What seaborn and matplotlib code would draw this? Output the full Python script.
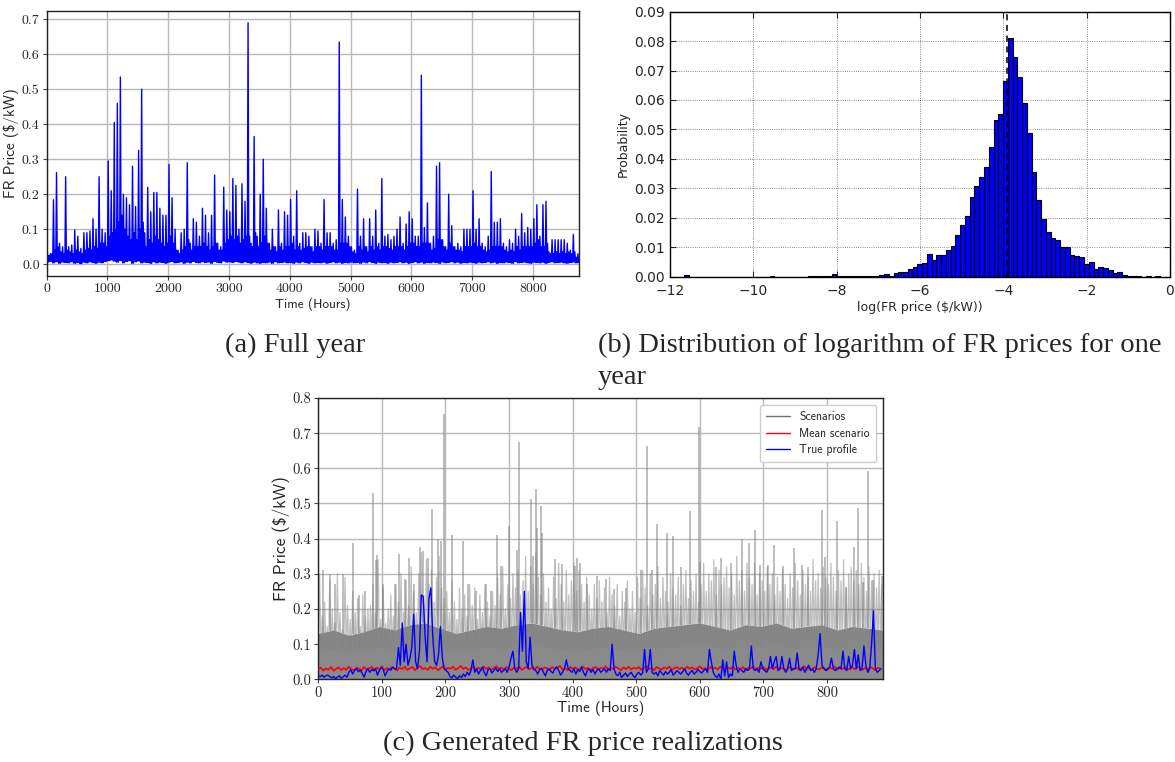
import numpy as np
import pandas as pd
import matplotlib
matplotlib.use("Agg")
import matplotlib.pyplot as plt
from matplotlib.lines import Line2D
import seaborn as sns

# ---------------- (a) full year FR price, read per 50-hour window ----------------
year_window_hours = 50
# highest spike in each window
year_peaks = [
    0.03, 0.03, 0.184, 0.262, 0.06, 0.05, 0.25, 0.05, 0.055, 0.098,
    0.08, 0.045, 0.09, 0.09, 0.095, 0.13, 0.1, 0.25, 0.1, 0.09,
    0.295, 0.21, 0.405, 0.46, 0.535, 0.2, 0.19, 0.17, 0.28, 0.165,
    0.325, 0.5, 0.09, 0.22, 0.15, 0.205, 0.205, 0.16, 0.14, 0.14,
    0.285, 0.19, 0.1, 0.04, 0.09, 0.1, 0.29, 0.06, 0.13, 0.12,
    0.08, 0.16, 0.14, 0.09, 0.14, 0.255, 0.06, 0.05, 0.22, 0.155,
    0.15, 0.245, 0.225, 0.1, 0.23, 0.18, 0.69, 0.06, 0.365, 0.08,
    0.2, 0.3, 0.16, 0.06, 0.1, 0.05, 0.155, 0.06, 0.15, 0.14,
    0.185, 0.08, 0.21, 0.06, 0.09, 0.09, 0.08, 0.05, 0.1, 0.095,
    0.06, 0.185, 0.09, 0.09, 0.06, 0.07, 0.635, 0.185, 0.135, 0.08,
    0.05, 0.04, 0.215, 0.08, 0.13, 0.05, 0.13, 0.08, 0.155, 0.06,
    0.245, 0.08, 0.085, 0.07, 0.08, 0.1, 0.135, 0.06, 0.115, 0.15,
    0.13, 0.08, 0.08, 0.54, 0.105, 0.175, 0.06, 0.08, 0.28, 0.29,
    0.07, 0.05, 0.2, 0.11, 0.05, 0.06, 0.05, 0.1, 0.1, 0.1,
    0.21, 0.1, 0.13, 0.06, 0.05, 0.08, 0.265, 0.12, 0.12, 0.13,
    0.06, 0.05, 0.07, 0.06, 0.1, 0.08, 0.145, 0.09, 0.105, 0.1,
    0.13, 0.17, 0.08, 0.17, 0.18, 0.035, 0.07, 0.07, 0.07, 0.07,
    0.07, 0.06, 0.04, 0.085, 0.02, 0.02,
]
# top of the dense band in each window
year_level = [
    0.025, 0.03, 0.04, 0.05, 0.035, 0.03, 0.04, 0.035, 0.03, 0.04,
    0.035, 0.03, 0.04, 0.045, 0.04, 0.05, 0.045, 0.06, 0.06, 0.05,
    0.08, 0.09, 0.1, 0.12, 0.14, 0.1, 0.08, 0.07, 0.09, 0.07,
    0.1, 0.12, 0.05, 0.07, 0.06, 0.08, 0.07, 0.06, 0.05, 0.06,
    0.08, 0.06, 0.04, 0.03, 0.04, 0.05, 0.07, 0.04, 0.05, 0.05,
    0.05, 0.06, 0.05, 0.04, 0.05, 0.06, 0.04, 0.04, 0.06, 0.07,
    0.08, 0.07, 0.08, 0.06, 0.07, 0.08, 0.08, 0.05, 0.09, 0.05,
    0.06, 0.08, 0.06, 0.04, 0.05, 0.035, 0.05, 0.04, 0.05, 0.05,
    0.06, 0.04, 0.05, 0.04, 0.045, 0.05, 0.05, 0.035, 0.05, 0.05,
    0.04, 0.05, 0.05, 0.05, 0.04, 0.04, 0.06, 0.06, 0.06, 0.05,
    0.035, 0.03, 0.05, 0.04, 0.05, 0.035, 0.05, 0.04, 0.05, 0.04,
    0.05, 0.05, 0.045, 0.04, 0.05, 0.05, 0.05, 0.04, 0.05, 0.06,
    0.06, 0.05, 0.05, 0.06, 0.06, 0.06, 0.04, 0.045, 0.07, 0.07,
    0.05, 0.04, 0.06, 0.05, 0.04, 0.04, 0.035, 0.05, 0.05, 0.05,
    0.06, 0.05, 0.05, 0.04, 0.035, 0.04, 0.05, 0.05, 0.05, 0.05,
    0.04, 0.035, 0.04, 0.035, 0.05, 0.04, 0.05, 0.05, 0.05, 0.05,
    0.06, 0.07, 0.05, 0.05, 0.06, 0.03, 0.03, 0.035, 0.03, 0.035,
    0.03, 0.035, 0.03, 0.035, 0.03, 0.025,
]
# lowest value in each window
year_troughs = [
    0.006, 0.008, 0.004, 0.007, 0.003, 0.006, 0.005, 0.004, 0.007, 0.003,
    0.005, 0.002, 0.006, 0.004, 0.007, 0.005, 0.003, 0.006, 0.004, 0.008,
    0.010, 0.012, 0.009, 0.006, 0.011, 0.004, 0.008, 0.010, 0.003, 0.007,
    0.009, 0.004, 0.006, 0.005, 0.003, 0.007, 0.004, 0.006, 0.005, 0.003,
    0.006, 0.008, 0.004, 0.005, 0.007, 0.003, 0.006, 0.004, 0.008, 0.005,
    0.004, 0.007, 0.005, 0.006, 0.003, 0.008, 0.005, 0.004, 0.009, 0.006,
    0.007, 0.005, 0.008, 0.006, 0.004, 0.007, 0.005, 0.003, 0.006, 0.004,
    0.003, 0.005, 0.004, 0.006, 0.003, 0.007, 0.004, 0.005, 0.006, 0.004,
    0.005, 0.003, 0.006, 0.004, 0.007, 0.005, 0.003, 0.006, 0.004, 0.005,
    0.004, 0.006, 0.003, 0.005, 0.007, 0.004, 0.006, 0.003, 0.005, 0.004,
    0.006, 0.004, 0.005, 0.003, 0.006, 0.004, 0.007, 0.005, 0.003, 0.006,
    0.004, 0.005, 0.003, 0.006, 0.004, 0.005, 0.007, 0.004, 0.006, 0.003,
    0.005, 0.007, 0.004, 0.006, 0.003, 0.005, 0.004, 0.006, 0.005, 0.003,
    0.006, 0.004, 0.005, 0.007, 0.004, 0.006, 0.003, 0.005, 0.004, 0.006,
    0.005, 0.003, 0.006, 0.004, 0.005, 0.007, 0.004, 0.006, 0.003, 0.005,
    0.004, 0.006, 0.005, 0.003, 0.007, 0.004, 0.005, 0.006, 0.004, 0.003,
    0.006, 0.005, 0.004, 0.006, 0.003, 0.005, 0.007, 0.004, 0.005, 0.006,
    0.004, 0.003, 0.005, 0.006, 0.004, 0.005,
]

# ---------------- (b) histogram of log(FR price) ----------------
hist_first_edge = -11.664
hist_bin_width = 0.1143
hist_probability = [
    0.0006, 0, 0, 0, 0, 0, 0, 0, 0, 0,
    0, 0, 0, 0.0001, 0, 0, 0, 0, 0.0002, 0,
    0, 0, 0.0001, 0, 0, 0, 0.0002, 0.0002, 0.0003, 0.0002,
    0.0002, 0.0009, 0.0003, 0.0002, 0.0005, 0.0002, 0.0002, 0.0004, 0.0004, 0.0004,
    0.0005, 0.0007, 0.0009, 0.0003, 0.0012, 0.0017, 0.0016, 0.0027, 0.0035, 0.0045,
    0.0048, 0.0078, 0.0058, 0.0076, 0.0076, 0.0090, 0.0105, 0.0142, 0.0176, 0.0206,
    0.0272, 0.0307, 0.0339, 0.0373, 0.0439, 0.0532, 0.0551, 0.0666, 0.0810, 0.0745,
    0.0679, 0.0589, 0.0487, 0.0356, 0.0262, 0.0198, 0.0151, 0.0132, 0.0124, 0.0103,
    0.0103, 0.0074, 0.0070, 0.0069, 0.0044, 0.0051, 0.0026, 0.0035, 0.0032, 0.0025,
    0.0015, 0.0016, 0.0006, 0.0005, 0.0003, 0.0002, 0.0001, 0.0002, 0.0001, 0.0002,
]
log_price_center = -3.92

# ---------------- (c) generated scenarios ----------------
core_step_hours = 24
scen_core_top = [
    0.13, 0.14, 0.125, 0.135, 0.15, 0.14, 0.155, 0.16, 0.145, 0.13,
    0.14, 0.15, 0.145, 0.155, 0.16, 0.15, 0.14, 0.135, 0.145, 0.15,
    0.14, 0.13, 0.145, 0.15, 0.155, 0.16, 0.15, 0.14, 0.155, 0.15,
    0.16, 0.145, 0.15, 0.155, 0.14, 0.15, 0.145, 0.14,
]
mid_step_hours = 4
scen_mid_peaks = [
    0.30, 0.18, 0.22, 0.15, 0.28, 0.20, 0.16, 0.30, 0.19, 0.14,
    0.29, 0.21, 0.17, 0.25, 0.19, 0.23, 0.15, 0.24, 0.18, 0.20,
    0.21, 0.27, 0.19, 0.34, 0.17, 0.26, 0.16, 0.20, 0.24, 0.18,
    0.27, 0.22, 0.30, 0.19, 0.28, 0.21, 0.32, 0.25, 0.19, 0.30,
    0.36, 0.24, 0.34, 0.27, 0.31, 0.22, 0.29, 0.35, 0.26, 0.23,
    0.25, 0.19, 0.28, 0.22, 0.17, 0.26, 0.20, 0.24, 0.18, 0.27,
    0.21, 0.26, 0.17, 0.24, 0.19, 0.27, 0.22, 0.18, 0.25, 0.21,
    0.29, 0.24, 0.32, 0.20, 0.27, 0.23, 0.30, 0.26, 0.31, 0.24,
    0.28, 0.35, 0.25, 0.32, 0.27, 0.36, 0.29, 0.24, 0.30, 0.22,
    0.26, 0.20, 0.29, 0.23, 0.33, 0.27, 0.22, 0.31, 0.24, 0.28,
    0.33, 0.25, 0.31, 0.27, 0.22, 0.29, 0.24, 0.20, 0.27, 0.23,
    0.28, 0.22, 0.26, 0.19, 0.29, 0.24, 0.21, 0.27, 0.18, 0.25,
    0.22, 0.28, 0.20, 0.25, 0.19, 0.29, 0.23, 0.31, 0.26, 0.21,
    0.30, 0.24, 0.27, 0.32, 0.23, 0.29, 0.25, 0.22, 0.30, 0.26,
    0.24, 0.29, 0.21, 0.27, 0.31, 0.23, 0.28, 0.25, 0.30, 0.22,
    0.27, 0.33, 0.25, 0.30, 0.28, 0.34, 0.24, 0.31, 0.27, 0.29,
    0.32, 0.26, 0.30, 0.24, 0.35, 0.28, 0.31, 0.25, 0.33, 0.29,
    0.27, 0.33, 0.24, 0.30, 0.28, 0.25, 0.32, 0.27, 0.30, 0.24,
    0.29, 0.25, 0.31, 0.27, 0.23, 0.30, 0.26, 0.33, 0.28, 0.24,
    0.31, 0.27, 0.29, 0.25, 0.34, 0.28, 0.30, 0.26, 0.32, 0.29,
    0.27, 0.33, 0.29, 0.25, 0.31, 0.28, 0.34, 0.26, 0.30, 0.32,
    0.28, 0.31, 0.27, 0.33, 0.29, 0.25, 0.32, 0.28, 0.30, 0.26,
    0.31, 0.27,
]
scen_spike_hours = [
    7, 19, 27, 39, 55, 64, 73, 86, 91, 93,
    101, 120, 127, 136, 143, 151, 160, 164, 172, 178,
    188, 193, 198, 211, 228, 235, 248, 263, 272, 281,
    288, 300, 312, 316, 335, 338, 342, 344, 350, 351,
    372, 383, 403, 407, 412, 422, 439, 453, 465, 484,
    507, 517, 524, 532, 548, 557, 571, 585, 599, 600,
    626, 633, 649, 666, 677, 686, 695, 707, 716, 731,
    748, 761, 770, 792, 797, 815, 830, 842, 849, 857,
    864, 873, 886,
]
scen_spike_values = [
    0.31, 0.30, 0.27, 0.30, 0.387, 0.24, 0.25, 0.53, 0.34, 0.353,
    0.27, 0.27, 0.356, 0.285, 0.345, 0.27, 0.377, 0.366, 0.344, 0.483,
    0.40, 0.394, 0.755, 0.41, 0.394, 0.27, 0.25, 0.27, 0.25, 0.41,
    0.323, 0.435, 0.369, 0.674, 0.513, 0.35, 0.541, 0.43, 0.494, 0.416,
    0.342, 0.328, 0.323, 0.344, 0.33, 0.27, 0.295, 0.285, 0.257, 0.26,
    0.31, 0.664, 0.31, 0.442, 0.415, 0.407, 0.32, 0.48, 0.718, 0.335,
    0.32, 0.345, 0.33, 0.40, 0.387, 0.425, 0.325, 0.325, 0.383, 0.323,
    0.373, 0.325, 0.32, 0.482, 0.347, 0.451, 0.262, 0.375, 0.486, 0.276,
    0.593, 0.282, 0.295,
]
mean_step_hours = 4
mean_scenario = [
    0.028, 0.033, 0.025, 0.031, 0.027, 0.035, 0.024, 0.030, 0.034, 0.026,
    0.032, 0.027, 0.036, 0.029, 0.025, 0.033, 0.030, 0.026, 0.035, 0.028,
    0.031, 0.036, 0.027, 0.033, 0.029, 0.037, 0.026, 0.032, 0.028, 0.035,
    0.030, 0.025, 0.034, 0.029, 0.036, 0.027, 0.031, 0.035, 0.026, 0.033,
    0.038, 0.029, 0.032, 0.027, 0.036, 0.030, 0.034, 0.026, 0.031, 0.037,
    0.028, 0.033, 0.030, 0.036, 0.027, 0.032, 0.038, 0.029, 0.034, 0.027,
    0.031, 0.035, 0.028, 0.033, 0.026, 0.036, 0.030, 0.034, 0.027, 0.032,
    0.037, 0.029, 0.033, 0.028, 0.035, 0.031, 0.026, 0.034, 0.030, 0.036,
    0.027, 0.032, 0.035, 0.029, 0.033, 0.026, 0.036, 0.030, 0.028, 0.034,
    0.031, 0.027, 0.035, 0.029, 0.033, 0.038, 0.028, 0.032, 0.026, 0.035,
    0.030, 0.034, 0.027, 0.031, 0.036, 0.029, 0.033, 0.026, 0.032, 0.035,
    0.028, 0.033, 0.030, 0.037, 0.027, 0.032, 0.029, 0.035, 0.031, 0.026,
    0.034, 0.029, 0.036, 0.028, 0.033, 0.030, 0.035, 0.027, 0.032, 0.038,
    0.029, 0.033, 0.026, 0.035, 0.031, 0.028, 0.034, 0.030, 0.036, 0.027,
    0.032, 0.035, 0.029, 0.033, 0.027, 0.036, 0.030, 0.034, 0.028, 0.031,
    0.037, 0.029, 0.032, 0.026, 0.035, 0.030, 0.033, 0.028, 0.036, 0.031,
    0.027, 0.034, 0.030, 0.036, 0.028, 0.032, 0.029, 0.035, 0.026, 0.033,
    0.031, 0.036, 0.028, 0.033, 0.030, 0.035, 0.027, 0.032, 0.034, 0.029,
    0.036, 0.028, 0.033, 0.030, 0.026, 0.035, 0.031, 0.029, 0.034, 0.027,
    0.032, 0.037, 0.029, 0.033, 0.027, 0.035, 0.030, 0.028, 0.034, 0.031,
    0.026, 0.033, 0.030, 0.036, 0.028, 0.032, 0.029, 0.035, 0.027, 0.031,
    0.034, 0.029, 0.036, 0.030, 0.027, 0.033, 0.028, 0.035, 0.031, 0.026,
    0.033, 0.030,
]
true_step_hours = 3
true_profile = [
    0.010, 0.008, 0.012, 0.006, 0.010, 0.012, 0.008,
    0.004, 0.008, 0.002, 0.006, 0.010, 0.003, 0.007, 0.012, 0.006,
    0.020, 0.028, 0.015, 0.025, 0.030, 0.022, 0.026,
    0.018, 0.006, 0.022, 0.030, 0.020, 0.028, 0.024,
    0.030, 0.012, 0.025, 0.034, 0.028, 0.010, 0.022, 0.030, 0.026, 0.035, 0.030,
    0.030, 0.090, 0.040, 0.160, 0.050, 0.100, 0.040, 0.060, 0.090, 0.185,
    0.050, 0.030, 0.080, 0.240, 0.235, 0.120, 0.050, 0.230, 0.260, 0.120,
    0.050, 0.040, 0.070, 0.150, 0.060, 0.030,
    0.025, 0.020, 0.008, 0.004, 0.012, 0.006, 0.002, 0.010, 0.005, 0.015,
    0.008, 0.020, 0.012, 0.025, 0.055,
    0.020, 0.030, 0.015, 0.025, 0.035, 0.020, 0.010, 0.028, 0.030, 0.018,
    0.025, 0.032, 0.022, 0.030, 0.020, 0.025, 0.030, 0.020, 0.035,
    0.060, 0.080, 0.030, 0.020, 0.030, 0.190, 0.080, 0.250, 0.050, 0.030,
    0.120, 0.040,
    0.030, 0.025, 0.015, 0.028, 0.032, 0.020, 0.010, 0.025, 0.030, 0.022,
    0.018, 0.030, 0.035, 0.025, 0.012, 0.020, 0.030, 0.055,
    0.030, 0.025, 0.020, 0.030, 0.015, 0.028, 0.022, 0.035, 0.020, 0.010,
    0.025, 0.030, 0.020, 0.028, 0.015, 0.025, 0.030, 0.020,
    0.025, 0.030, 0.020, 0.030, 0.025, 0.100, 0.030,
    0.015, 0.010, 0.020, 0.005, 0.012, 0.018, 0.008, 0.015, 0.020, 0.010,
    0.005, 0.015, 0.020, 0.012, 0.018,
    0.085, 0.020, 0.030, 0.085, 0.020,
    0.015, 0.020, 0.010, 0.025, 0.018, 0.012, 0.022, 0.015, 0.020, 0.028,
    0.012, 0.018, 0.025, 0.020, 0.015, 0.022, 0.030, 0.018, 0.012, 0.020,
    0.025, 0.015, 0.020, 0.028, 0.022, 0.018, 0.025, 0.030, 0.020,
    0.085, 0.050, 0.020,
    0.010, 0.005, 0.015, 0.000, 0.055, 0.010, 0.050, 0.005, 0.015, 0.010,
    0.080, 0.040,
    0.020, 0.030, 0.025, 0.020, 0.030, 0.025, 0.030,
    0.095, 0.030,
    0.025, 0.030, 0.020, 0.050, 0.030, 0.025, 0.020, 0.030,
    0.065, 0.030, 0.050, 0.065, 0.025, 0.030, 0.065, 0.030, 0.020, 0.030,
    0.060, 0.025, 0.030, 0.030, 0.075, 0.030,
    0.025, 0.035, 0.020, 0.030, 0.040, 0.025, 0.030, 0.020, 0.030,
    0.070, 0.130, 0.040, 0.030, 0.025, 0.030, 0.035, 0.060, 0.030, 0.025,
    0.030, 0.035, 0.030, 0.080, 0.030, 0.025, 0.065, 0.030, 0.040, 0.085,
    0.030, 0.070, 0.025, 0.030, 0.095, 0.040, 0.020, 0.030, 0.100, 0.195,
    0.030, 0.020, 0.025, 0.030,
]

# ---------------- style ----------------
sns.set_style("whitegrid")
plt.rcParams["font.family"] = ["DejaVu Sans"]
plt.rcParams["axes.unicode_minus"] = True

fig = plt.figure(figsize=(11.75, 7.62), dpi=100)

GRID = "#b8b8b8"
SANS_CM = "cmss10"
SERIF_CM = "cmr10"


def style_grid_axes(ax):
    ax.grid(True, color=GRID, linewidth=1.0)
    ax.set_axisbelow(True)
    for sp in ax.spines.values():
        sp.set_color("#222222")
        sp.set_linewidth(1.0)
    ax.tick_params(axis="both", which="both", direction="out", length=3,
                   width=0.8, color="#444444", bottom=True, left=True, pad=2)


# ---------------- panel (a) ----------------
axA = fig.add_axes([0.0397, 0.6374, 0.4533, 0.3486])
a_x, a_y = [], []
w = year_window_hours
for k in range(len(year_peaks)):
    a_x += [k * w, k * w + w / 4, k * w + w / 2, k * w + 3 * w / 4]
    a_y += [year_troughs[k], year_peaks[k], year_troughs[k], year_level[k]]
sns.lineplot(x=a_x, y=a_y, ax=axA, color="blue", linewidth=1.0,
             sort=False, estimator=None)
axA.set_xlim(0, 8760)
axA.set_ylim(-0.0345, 0.7245)
style_grid_axes(axA)
xt = list(range(0, 9000, 1000))
axA.set_xticks(xt)
axA.set_xticklabels([str(v) for v in xt], fontfamily=SERIF_CM, fontsize=10)
yt = [i / 10 for i in range(8)]
axA.set_yticks(yt)
axA.set_yticklabels([f"{v:.1f}" for v in yt], fontfamily=SERIF_CM, fontsize=10)
axA.set_xlabel("Time (Hours)", fontfamily=SANS_CM, fontsize=9.5, labelpad=2)
axA.set_ylabel("FR Price ($/kW)", fontfamily=SANS_CM, fontsize=11, labelpad=2)

# ---------------- panel (b) ----------------
axB = fig.add_axes([0.5702, 0.6365, 0.4255, 0.3484])
n_bins = len(hist_probability)
edges = [hist_first_edge + hist_bin_width * i for i in range(n_bins + 1)]
hist_df = pd.DataFrame({
    "center": [(edges[i] + edges[i + 1]) / 2 for i in range(n_bins)],
    "prob": hist_probability,
})
sns.histplot(data=hist_df, x="center", weights="prob", bins=edges, ax=axB,
             color="#0000ff", edgecolor="black", linewidth=0.8, alpha=1.0,
             stat="count")
axB.axvline(log_price_center, color="black", linestyle="--", linewidth=1.1,
            dashes=(4, 3))
axB.set_xlim(-12, 0)
axB.set_ylim(0, 0.09)
axB.set_facecolor("white")
axB.grid(True, color="black", linestyle=":", linewidth=0.6, alpha=0.6)
axB.set_axisbelow(True)
for sp in axB.spines.values():
    sp.set_color("black")
    sp.set_linewidth(1.0)
axB.tick_params(axis="both", which="major", direction="in", length=4,
                width=0.8, top=True, right=True, bottom=True, left=True,
                labelsize=10)
axB.tick_params(axis="x", pad=5)
axB.tick_params(axis="y", pad=4)
axB.set_xticks(list(range(-12, 1, 2)))
axB.set_xticklabels(["\u221212", "\u221210", "\u22128", "\u22126", "\u22124",
                     "\u22122", "0"])
yb = [i / 100 for i in range(10)]
axB.set_yticks(yb)
axB.set_yticklabels([f"{v:.2f}" for v in yb])
axB.set_xlabel("log(FR price ($/kW))", fontsize=9, labelpad=2)
axB.set_ylabel("Probability", fontsize=9, labelpad=3)

# ---------------- panel (c) ----------------
axC = fig.add_axes([0.2709, 0.1085, 0.4806, 0.3692])
core_hours = np.arange(len(scen_core_top)) * core_step_hours
axC.fill_between(core_hours, 0, scen_core_top, color="#8a8a8a", linewidth=0,
                 zorder=1)
m_x, m_y = [], []
for k, v in enumerate(scen_mid_peaks):
    h0 = k * mid_step_hours
    m_x += [h0, h0 + mid_step_hours / 2]
    m_y += [float(np.interp(h0, core_hours, scen_core_top)) * 0.6, v]
sns.lineplot(x=m_x, y=m_y, ax=axC, color="gray", alpha=0.5, linewidth=0.9,
             sort=False, estimator=None, zorder=2)
spike_base = np.interp(scen_spike_hours, core_hours, scen_core_top)
axC.vlines(scen_spike_hours, spike_base, scen_spike_values, color="gray",
           alpha=0.55, linewidth=1.3, zorder=2)
sns.lineplot(x=np.arange(len(mean_scenario)) * mean_step_hours, y=mean_scenario,
             ax=axC, color="red", linewidth=1.2, sort=False, estimator=None,
             zorder=3)
sns.lineplot(x=np.arange(len(true_profile)) * true_step_hours, y=true_profile,
             ax=axC, color="blue", linewidth=1.0, sort=False, estimator=None,
             zorder=4)
axC.set_xlim(0, 888)
axC.set_ylim(0, 0.8)
style_grid_axes(axC)
xc = list(range(0, 900, 100))
axC.set_xticks(xc)
axC.set_xticklabels([str(v) for v in xc], fontfamily=SERIF_CM, fontsize=10.5)
ycv = [i / 10 for i in range(9)]
axC.set_yticks(ycv)
axC.set_yticklabels([f"{v:.1f}" for v in ycv], fontfamily=SERIF_CM, fontsize=10.5)
axC.set_xlabel("Time (Hours)", fontfamily=SANS_CM, fontsize=11, labelpad=1)
axC.set_ylabel("FR Price ($/kW)", fontfamily=SANS_CM, fontsize=12.5, labelpad=2)
handles = [Line2D([], [], color="#707070", linewidth=1.0),
           Line2D([], [], color="red", linewidth=1.0),
           Line2D([], [], color="blue", linewidth=1.0)]
leg = axC.legend(handles, ["Scenarios", "Mean scenario", "True profile"],
                 loc="upper right", prop={"family": SANS_CM, "size": 8.5},
                 frameon=True, fancybox=True, framealpha=1.0,
                 edgecolor="#cccccc", handlelength=2.0, borderpad=0.5,
                 labelspacing=0.4, borderaxespad=0.6)

# ---------------- captions ----------------
CAP = {"family": "Liberation Serif", "size": 20.5}
fig.text(0.251, 0.547, "(a) Full year", ha="center", va="center", fontdict=CAP)
fig.text(0.509, 0.547, "(b) Distribution of logarithm of FR prices for one",
         ha="left", va="center", fontdict=CAP)
fig.text(0.509, 0.505, "year", ha="left", va="center", fontdict=CAP)
fig.text(0.496, 0.024, "(c) Generated FR price realizations", ha="center",
         va="center", fontdict=CAP)

fig.savefig("out.png", dpi=100)
